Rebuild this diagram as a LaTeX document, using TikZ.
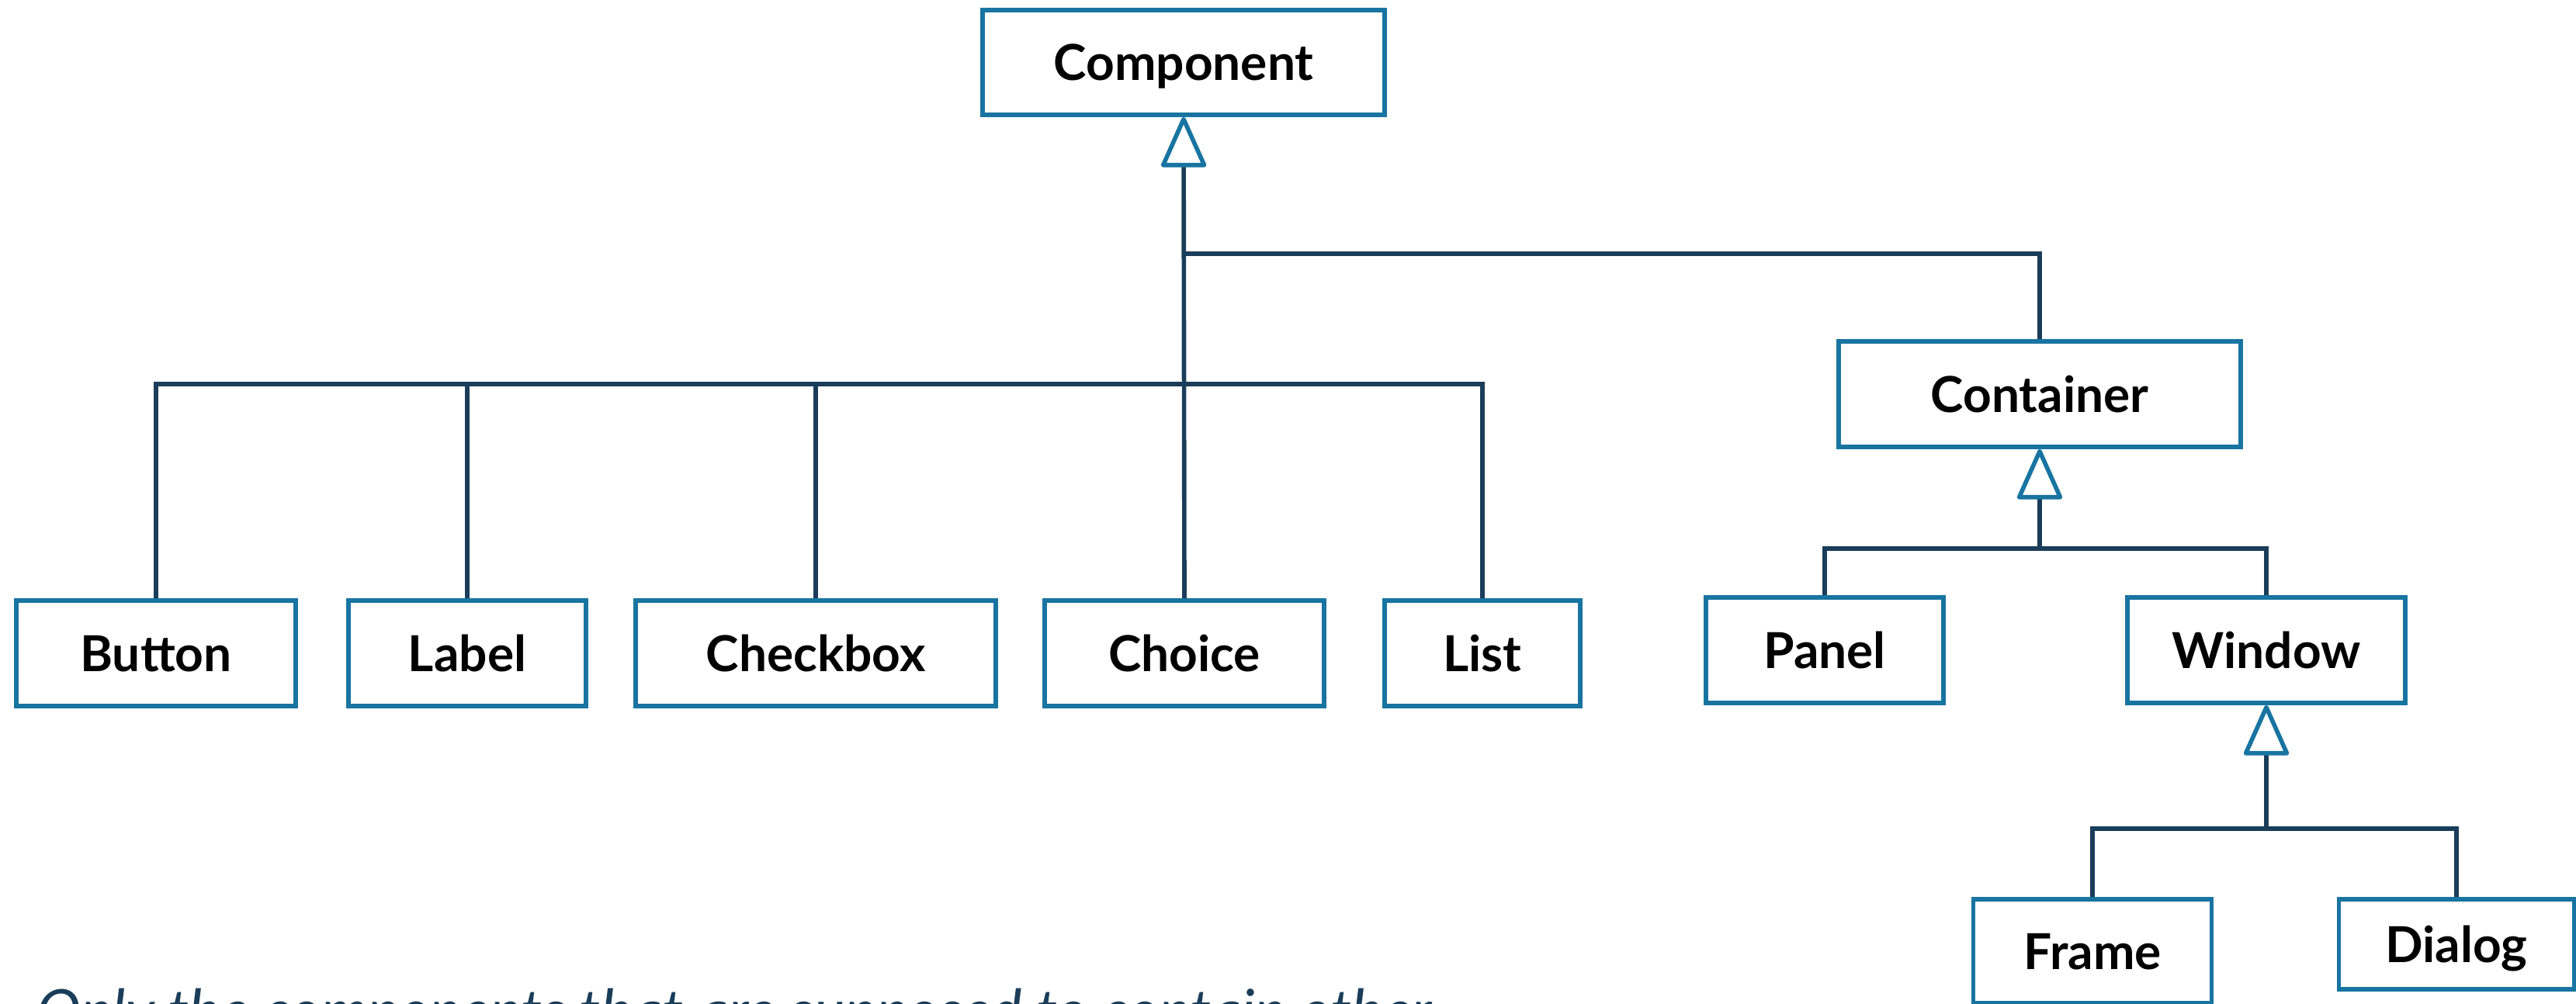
\documentclass[tikz,border=0pt]{standalone}
\usepackage{fontspec}
\setmainfont{Lato}
\usetikzlibrary{arrows.meta}
\definecolor{boxblue}{HTML}{1874A0}
\definecolor{linknavy}{HTML}{1A3D5A}

\begin{document}
\begin{tikzpicture}[
    cls/.style={draw=boxblue, line width=1.6pt, fill=white, inner sep=0pt,
        minimum height=1.36cm, text height=13.1pt, text depth=0pt,
        font=\fontsize{18.2}{20}\selectfont\bfseries},
    link/.style={draw=linknavy, line width=1.6pt},
    inherit/.style={link, -{Triangle[open, round, length=0.69cm, width=0.6cm, color=boxblue, fill=white]}}
]
    \useasboundingbox (0,0) rectangle (33.19,-12.94);
    \clip (0,0) rectangle (33.19,-12.94);

    % Top class
    \node [cls, minimum width=5.18cm, minimum height=1.35cm] (component) at (15.25,-0.805) {Component};

    % Simple components
    \node [cls, minimum width=3.60cm] (button) at (2.01,-8.42) {Button};
    \node [cls, minimum width=3.06cm] (label) at (6.02,-8.42) {Label};
    \node [cls, minimum width=4.64cm] (checkbox) at (10.51,-8.42) {Checkbox};
    \node [cls, minimum width=3.60cm] (choice) at (15.26,-8.42) {Choice};
    \node [cls, minimum width=2.52cm] (list) at (19.10,-8.42) {List};

    % Containers
    \node [cls, minimum width=5.18cm] (container) at (26.28,-5.08) {Container};
    \node [cls, minimum width=3.06cm] (panel) at (23.51,-8.38) {Panel};
    \node [cls, minimum width=3.58cm] (window) at (29.20,-8.38) {Window};
    \node [cls, minimum width=3.07cm, minimum height=1.34cm] (frame) at (26.96,-12.26) {Frame};
    \node [cls, minimum width=3.03cm, minimum height=1.16cm] (dialog) at (31.65,-12.17) {Dialog};

    % Inheritance from Component
    \coordinate (fork) at (15.26,-3.27);
    \coordinate (bus) at (15.26,-4.95);
    \draw [inherit] (choice.north) -- (component.south);
    \draw [link] (button.north) |- (list.north |- bus) -- (list.north);
    \draw [link] (label.north) -- (label.north |- bus);
    \draw [link] (checkbox.north) -- (checkbox.north |- bus);
    \draw [link] (fork) -| (container.north);

    % Inheritance from Container
    \coordinate (cbus) at (26.28,-7.07);
    \draw [inherit] (cbus) -- (container.south);
    \draw [link] (panel.north) |- (cbus) -| (window.north);

    % Inheritance from Window
    \coordinate (wbus) at (29.20,-10.68);
    \draw [inherit] (wbus) -- (window.south);
    \draw [link] (frame.north) |- (wbus) -| (dialog.north);

    % Caption (cut off by the page edge)
    \node [anchor=base west, inner sep=0pt, text=linknavy, font=\fontsize{21.8}{24}\selectfont\itshape] (note) at (0.47,-13.30)
        {Only the components that are supposed to contain other};
\end{tikzpicture}
\end{document}
